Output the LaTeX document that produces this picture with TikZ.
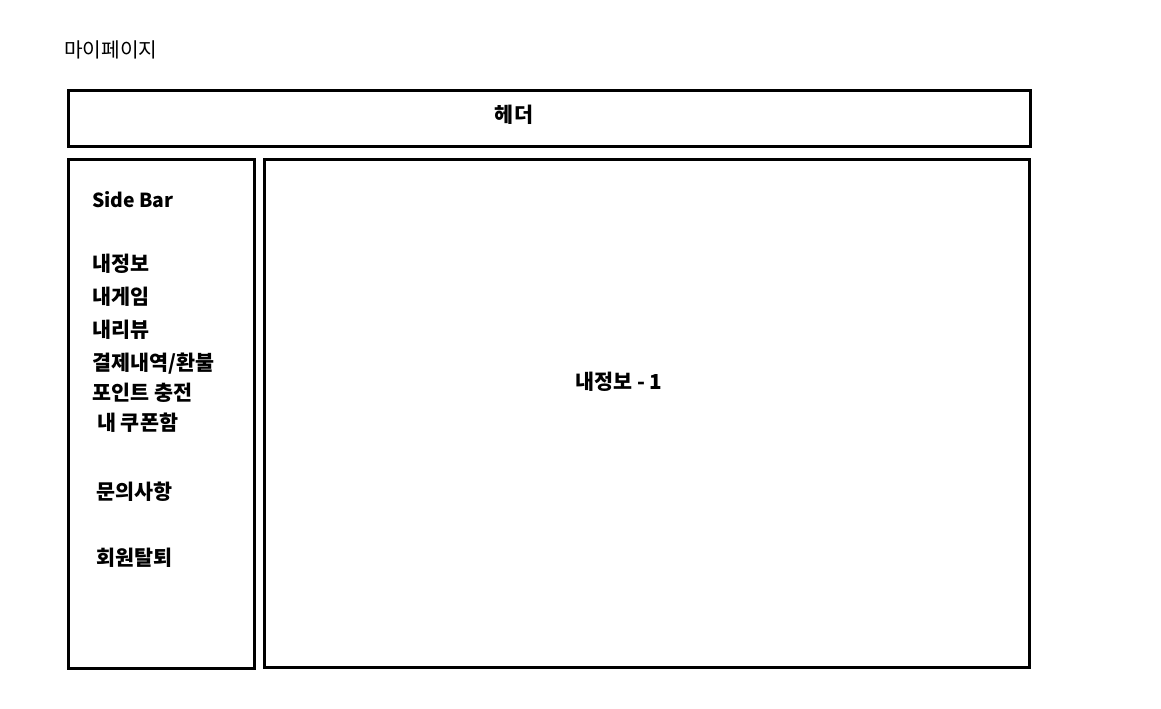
\documentclass[tikz,border=0pt]{standalone}
\usepackage{fontspec}
\setmainfont{Noto Sans CJK KR}
\begin{document}
\begin{tikzpicture}[x=0.75pt,y=-0.75pt,
  frame/.style={draw=black,line width=2.25pt},
  lbl/.style={font=\fontsize{15.5}{18}\selectfont\bfseries,inner sep=0pt,anchor=west},
  ttl/.style={font=\fontsize{15.2}{18}\selectfont,inner sep=0pt,anchor=west}]
\useasboundingbox (0,0) rectangle (1161,708);
\node[ttl] (title) at (64,49.5) {마이페이지};
\draw[frame] (68,90) rectangle (1030,146);
\node[lbl,anchor=center] (header) at (514,114.5) {헤더};
\draw[frame] (68,159) rectangle (254,668);
\draw[frame] (264,159) rectangle (1029,667);
\node[lbl,font=\fontsize{14.5}{17}\selectfont\bfseries] (sb) at (92,199.5) {Side Bar};
\node[lbl] (a) at (92,263.5) {내정보};
\node[lbl] (b) at (92,296.5) {내게임};
\node[lbl] (c) at (92,329.5) {내리뷰};
\node[lbl] (d) at (92,363.5) {결제내역/환불};
\node[lbl] (e) at (92,392.5) {포인트 충전};
\node[lbl] (f) at (97,422.5) {내 쿠폰함};
\node[lbl] (g) at (96,491.5) {문의사항};
\node[lbl] (h) at (96,557.5) {회원탈퇴};
\node[lbl,anchor=center] (main) at (619,381.5) {내정보 - 1};
\end{tikzpicture}
\end{document}
